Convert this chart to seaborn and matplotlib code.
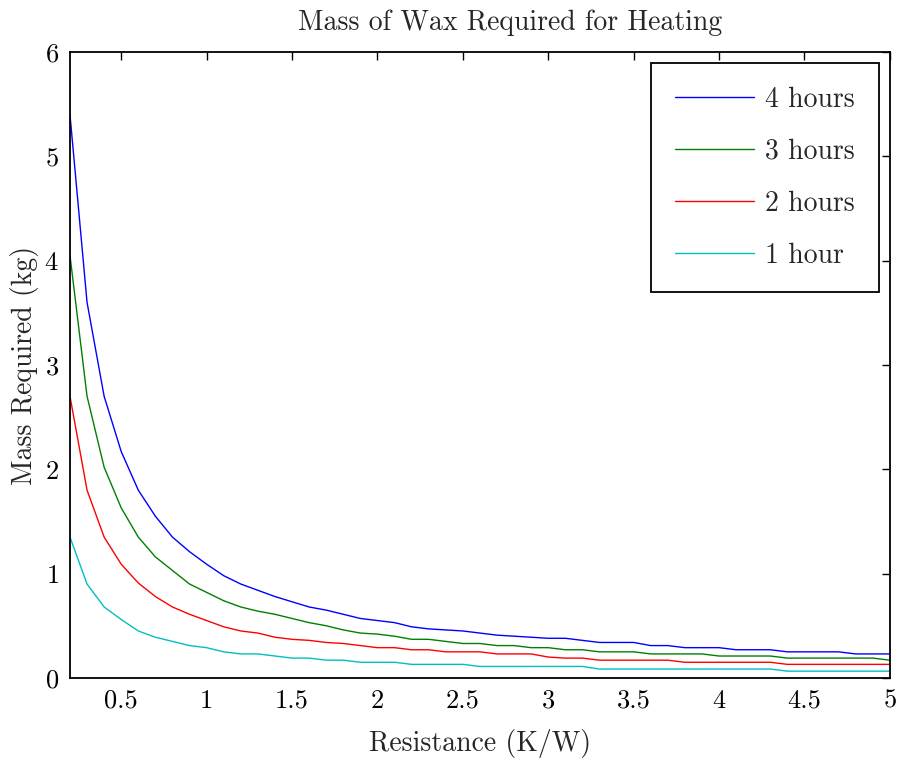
import numpy as np
import pandas as pd
import matplotlib
matplotlib.use("Agg")
import matplotlib.pyplot as plt
import seaborn as sns

resistance = [0.2, 0.3, 0.4, 0.5, 0.6, 0.7, 0.8, 0.9, 1.0,
              1.1, 1.2, 1.3, 1.4, 1.5, 1.6, 1.7, 1.8, 1.9, 2.0,
              2.1, 2.2, 2.3, 2.4, 2.5, 2.6, 2.7, 2.8, 2.9, 3.0,
              3.1, 3.2, 3.3, 3.4, 3.5, 3.6, 3.7, 3.8, 3.9, 4.0,
              4.1, 4.2, 4.3, 4.4, 4.5, 4.6, 4.7, 4.8, 4.9, 5.0]

mass_4h = [5.40, 3.60, 2.70, 2.17, 1.80, 1.55, 1.35, 1.21, 1.09,
           0.98, 0.90, 0.84, 0.78, 0.73, 0.68, 0.65, 0.61, 0.57, 0.55,
           0.53, 0.49, 0.47, 0.46, 0.45, 0.43, 0.41, 0.40, 0.39, 0.38,
           0.38, 0.36, 0.34, 0.34, 0.34, 0.31, 0.31, 0.29, 0.29, 0.29,
           0.27, 0.27, 0.27, 0.25, 0.25, 0.25, 0.25, 0.23, 0.23, 0.23]

mass_3h = [4.05, 2.70, 2.02, 1.63, 1.35, 1.16, 1.03, 0.90, 0.82,
           0.74, 0.68, 0.64, 0.61, 0.57, 0.53, 0.50, 0.46, 0.43, 0.42,
           0.40, 0.37, 0.37, 0.35, 0.33, 0.33, 0.31, 0.31, 0.29, 0.29,
           0.27, 0.27, 0.25, 0.25, 0.25, 0.23, 0.23, 0.23, 0.23, 0.21,
           0.21, 0.21, 0.21, 0.19, 0.19, 0.19, 0.19, 0.19, 0.19, 0.17]

mass_2h = [2.70, 1.80, 1.35, 1.09, 0.91, 0.78, 0.68, 0.61, 0.55,
           0.49, 0.45, 0.43, 0.39, 0.37, 0.36, 0.34, 0.33, 0.31, 0.29,
           0.29, 0.27, 0.27, 0.25, 0.25, 0.25, 0.23, 0.23, 0.23, 0.20,
           0.19, 0.19, 0.17, 0.17, 0.17, 0.17, 0.17, 0.15, 0.15, 0.15,
           0.15, 0.15, 0.15, 0.13, 0.13, 0.13, 0.13, 0.13, 0.13, 0.13]

mass_1h = [1.35, 0.90, 0.68, 0.56, 0.45, 0.39, 0.35, 0.31, 0.29,
           0.25, 0.23, 0.23, 0.21, 0.19, 0.19, 0.17, 0.17, 0.15, 0.15,
           0.15, 0.13, 0.13, 0.13, 0.13, 0.11, 0.11, 0.11, 0.11, 0.11,
           0.11, 0.11, 0.085, 0.085, 0.085, 0.085, 0.085, 0.085, 0.085, 0.085,
           0.085, 0.085, 0.085, 0.065, 0.065, 0.065, 0.065, 0.065, 0.065, 0.065]

series_labels = ["4 hours", "3 hours", "2 hours", "1 hour"]
series_colors = ["#0000ff", "#008000", "#ff0000", "#00bfbf"]

x_ticks = [0.5, 1, 1.5, 2, 2.5, 3, 3.5, 4, 4.5, 5]
x_tick_labels = ["0.5", "1", "1.5", "2", "2.5", "3", "3.5", "4", "4.5", "5"]
y_ticks = [0, 1, 2, 3, 4, 5, 6]

frames = []
for lab, vals in zip(series_labels, [mass_4h, mass_3h, mass_2h, mass_1h]):
    frames.append(pd.DataFrame({"Resistance": resistance, "Mass": vals, "Series": lab}))
df = pd.concat(frames, ignore_index=True)

sns.set_style("white")
plt.rcParams["font.family"] = ["cmr10", "DejaVu Serif"]
plt.rcParams["axes.formatter.use_mathtext"] = True

fig = plt.figure(figsize=(8.97, 7.6), dpi=100)
ax = fig.add_axes([0.078, 0.108, 0.914, 0.8236])

sns.lineplot(data=df, x="Resistance", y="Mass", hue="Series",
             hue_order=series_labels, palette=series_colors,
             linewidth=1.0, ax=ax, estimator=None, sort=False)

ax.set_xlim(0.2, 5)
ax.set_ylim(0, 6)
ax.set_xticks(x_ticks)
ax.set_xticklabels(x_tick_labels)
ax.set_yticks(y_ticks)
ax.tick_params(direction="in", length=6, width=1.0, top=True, right=True,
               labelsize=19, pad=8, colors="black")
for s in ax.spines.values():
    s.set_linewidth(1.3)
    s.set_color("black")

ax.set_title("Mass of Wax Required for Heating", fontsize=20, x=0.537, pad=16)
ax.set_xlabel("Resistance (K/W)", fontsize=20, labelpad=12)
ax.set_ylabel("Mass Required (kg)", fontsize=20, labelpad=4)

leg = ax.legend(loc="upper right", fontsize=20, frameon=True, fancybox=False,
                labelspacing=0.92, handlelength=2.85, handletextpad=0.4,
                borderpad=0.85, borderaxespad=0.4)
leg.get_frame().set_edgecolor("black")
leg.get_frame().set_linewidth(1.3)
leg.get_frame().set_alpha(1)

fig.savefig("out.png", dpi=100)
